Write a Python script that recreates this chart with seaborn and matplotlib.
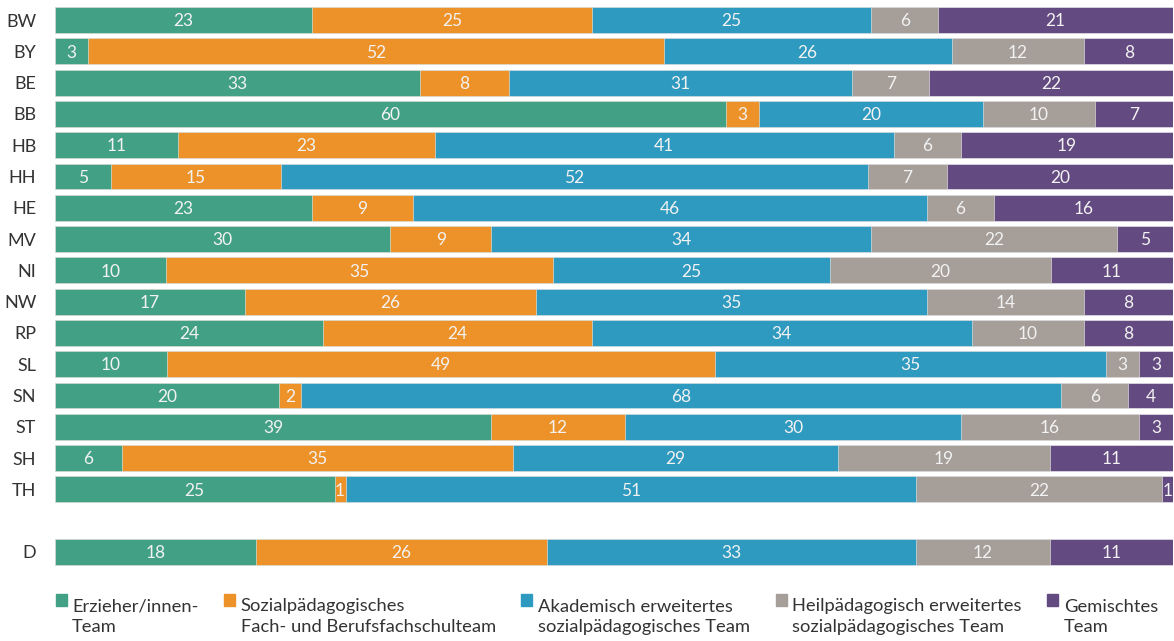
import numpy as np
import pandas as pd
import matplotlib
matplotlib.use('Agg')
import matplotlib.pyplot as plt
import matplotlib.patches as mpatches
from matplotlib.legend_handler import HandlerPatch
import seaborn as sns

states = ['BW', 'BY', 'BE', 'BB', 'HB', 'HH', 'HE', 'MV', 'NI', 'NW', 'RP', 'SL', 'SN', 'ST', 'SH', 'TH', ' ', 'D']
categories = ['Erzieher/innen-\nTeam',
              'Sozialpädagogisches\nFach- und Berufsfachschulteam',
              'Akademisch erweitertes\nsozialpädagogisches Team',
              'Heilpädagogisch erweitertes\nsozialpädagogisches Team',
              'Gemischtes\nTeam']
erzieher = [23, 3, 33, 60, 11, 5, 23, 30, 10, 17, 24, 10, 20, 39, 6, 25, 0, 18]
sozial = [25, 52, 8, 3, 23, 15, 9, 9, 35, 26, 24, 49, 2, 12, 35, 1, 0, 26]
akademisch = [25, 26, 31, 20, 41, 52, 46, 34, 25, 35, 34, 35, 68, 30, 29, 51, 0, 33]
heil = [6, 12, 7, 10, 6, 7, 6, 22, 20, 14, 10, 3, 6, 16, 19, 22, 0, 12]
gemischt = [21, 8, 22, 7, 19, 20, 16, 5, 11, 8, 8, 3, 4, 3, 11, 1, 0, 11]
colors = ['#42a184', '#ec9229', '#2e9abf', '#a59e99', '#634a80']

vals = np.array([erzieher, sozial, akademisch, heil, gemischt], dtype=float).T
tot = vals.sum(axis=1, keepdims=True)
share = np.divide(vals, tot, out=np.zeros_like(vals), where=tot > 0) * 100
cum = share.cumsum(axis=1)
cum[tot[:, 0] == 0] = np.nan  # spacer row, no bar

sns.set_theme(style='white')
plt.rcParams['font.family'] = ['Lato', 'DejaVu Sans']

fig = plt.figure(figsize=(11.74, 6.41), dpi=100)
ax = fig.add_axes([55 / 1174, 1 - 567.6 / 641, 1118 / 1174, (567.6 - 4.4) / 641])

# stacked bars: draw cumulative totals, widest first
for i in reversed(range(5)):
    df = pd.DataFrame({'state': states, 'value': cum[:, i]})
    sns.barplot(data=df, x='value', y='state', order=states, orient='h',
                color=colors[i], saturation=1, width=0.83,
                edgecolor='#eeeeee', linewidth=0.4, ax=ax)

for r, st in enumerate(states):
    if tot[r, 0] == 0:
        continue
    for i in range(5):
        left = cum[r, i] - share[r, i]
        ax.text(left + share[r, i] / 2, r + 0.04, '%d' % vals[r, i],
                ha='center', va='center', color='#f2f2f2', fontsize=12.5)

ax.set_xlim(0, 100)
ax.set_ylim(len(states) - 0.5, -0.5)
ax.set(xlabel='', ylabel='')
ax.set_xticks([])
ax.tick_params(axis='y', length=0, pad=13.5, labelsize=13, labelcolor='#333333')
sns.despine(ax=ax, left=True, bottom=True)


def top_square(legend, orig_handle, xdescent, ydescent, width, height, fontsize):
    return mpatches.Rectangle((-xdescent, -ydescent + 0.9 * fontsize), width, height)


handles = [mpatches.Patch(color=c) for c in colors]
leg = fig.legend(handles, categories, ncol=5, loc='upper left',
                 bbox_to_anchor=(39 / 1174, 1 - 582 / 641), frameon=False,
                 handlelength=0.6, handleheight=0.6, handletextpad=0.3,
                 columnspacing=1.4, prop={'size': 13.2},
                 labelcolor='#333333',
                 handler_map={mpatches.Patch: HandlerPatch(patch_func=top_square)})
for t in leg.get_texts():
    t.set_linespacing(1.35)

fig.savefig('out.png', dpi=100)
